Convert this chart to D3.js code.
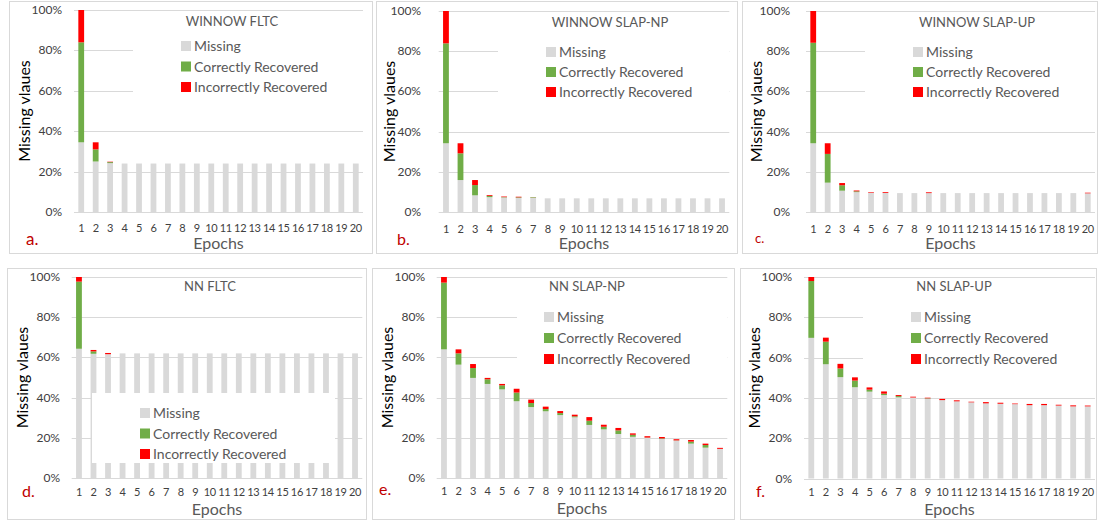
<!DOCTYPE html>
<html>
<head>
<meta charset="utf-8">
<script src="https://cdn.jsdelivr.net/npm/d3@7"></script>
<style>
  body { margin: 0; background: #fff; }
  svg { display: block; font-family: Lato, "Open Sans", sans-serif; }
</style>
</head>
<body>
<svg width="1098" height="523"></svg>
<script>
// epochs 1..20
var epochs = d3.range(1, 21);
var yTicks = [0, 20, 40, 60, 80, 100];
var seriesNames = ["Missing", "Correctly Recovered", "Incorrectly Recovered"];
var colors = ["#d9d9d9", "#70ad47", "#ff0000"];

// a. WINNOW FLTC
var missingA   = [34.5, 25, 24.2, 24, 24, 24, 24, 24, 24, 24, 24, 24, 24, 24, 24, 24, 24, 24, 24, 24];
var correctA   = [49.5, 6, 0.5, 0, 0, 0, 0, 0, 0, 0, 0, 0, 0, 0, 0, 0, 0, 0, 0, 0];
var incorrectA = [16, 3.5, 0.2, 0, 0, 0, 0, 0, 0, 0, 0, 0, 0, 0, 0, 0, 0, 0, 0, 0];
// b. WINNOW SLAP-NP
var missingB   = [34.2, 15.9, 8.3, 7.4, 7.2, 7.0, 7.0, 6.8, 6.8, 6.8, 6.8, 6.8, 6.8, 6.8, 6.8, 6.8, 6.8, 6.8, 6.8, 6.8];
var correctB   = [49.7, 13.3, 5.1, 0.6, 0.2, 0.3, 0.3, 0, 0, 0, 0, 0, 0, 0, 0, 0, 0, 0, 0, 0];
var incorrectB = [16.1, 5.0, 2.5, 0.4, 0.3, 0.3, 0.05, 0, 0, 0, 0, 0, 0, 0, 0, 0, 0, 0, 0, 0];
// c. WINNOW SLAP-UP
var missingC   = [34.2, 14.6, 10.6, 9.9, 9.6, 9.5, 9.4, 9.4, 9.4, 9.4, 9.4, 9.4, 9.4, 9.4, 9.4, 9.4, 9.4, 9.4, 9.4, 9.3];
var correctC   = [50, 14.3, 2.7, 0.4, 0, 0, 0, 0, 0, 0, 0, 0, 0, 0, 0, 0, 0, 0, 0, 0];
var incorrectC = [15.8, 5.3, 1.1, 0.4, 0.3, 0.4, 0, 0, 0.4, 0, 0, 0, 0, 0, 0, 0, 0, 0, 0, 0.3];
// d. NN FLTC
var missingD   = [64.3, 61.8, 61.6, 62, 62, 62, 62, 62, 62, 62, 62, 62, 62, 62, 62, 62, 62, 62, 62, 62];
var correctD   = [33.4, 1.2, 0, 0, 0, 0, 0, 0, 0, 0, 0, 0, 0, 0, 0, 0, 0, 0, 0, 0];
var incorrectD = [2.3, 0.7, 0.6, 0, 0, 0, 0, 0, 0, 0, 0, 0, 0, 0, 0, 0, 0, 0, 0, 0];
// e. NN SLAP-NP
var missingE   = [64.0, 56.4, 49.8, 46.8, 44.1, 38.2, 35.3, 33.2, 31.3, 30.2, 26.4, 24.2, 21.9, 20.5, 20.0, 19.4, 18.6, 17.1, 15.1, 14.5];
var correctE   = [33.2, 5.6, 4.9, 2.3, 2.0, 4.3, 2.0, 1.1, 1.0, 0.5, 2.1, 1.3, 1.8, 1.0, 0.1, 0.3, 0.1, 1.0, 1.3, 0];
var incorrectE = [2.8, 2.0, 2.0, 0.7, 0.7, 1.9, 1.7, 1.2, 1.0, 0.8, 1.8, 1.0, 1.2, 0.7, 0.7, 0.7, 0.6, 0.8, 0.7, 0.5];
// f. NN SLAP-UP
var missingF   = [69.8, 56.7, 50.3, 45.3, 43.1, 41.4, 40.3, 40.2, 39.6, 38.9, 38.3, 37.8, 37.3, 37.1, 36.9, 36.4, 36.4, 36.2, 35.8, 35.8];
var correctF   = [28.2, 11.2, 4.3, 3.3, 1.0, 0.7, 0.6, 0, 0.2, 0, 0, 0, 0, 0, 0, 0, 0, 0, 0, 0];
var incorrectF = [2.0, 2.0, 2.3, 1.6, 1.1, 1.1, 0.5, 0.4, 0.3, 0.6, 0.5, 0.3, 0.6, 0.5, 0.3, 0.6, 0.6, 0.4, 0.5, 0.4];

var panels = [
  {letter: "a.", title: "WINNOW FLTC", series: [missingA, correctA, incorrectA],
   box: [9, 1, 372, 253], px: [74, 363], py: [212, 10], ylabX: 62, yTitleX: 24,
   titleXY: [232, 26], leg: [181, 46, 20.5], legBg: [133, 32, 363, 100],
   letterXY: [26, 245], letterSize: 17, xtickY: 232, epochsY: 249},
  {letter: "b.", title: "WINNOW SLAP-NP", series: [missingB, correctB, incorrectB],
   box: [376, 1, 737, 253], px: [438.7, 729.3], py: [212, 11], ylabX: 421, yTitleX: 389,
   titleXY: [610, 27], leg: [546, 52, 20], legBg: [498, 34, 729, 108],
   letterXY: [397, 245], letterSize: 16, xtickY: 233, epochsY: 249},
  {letter: "c.", title: "WINNOW SLAP-UP", series: [missingC, correctC, incorrectC],
   box: [742, 1, 1097, 253], px: [806, 1095], py: [212, 11], ylabX: 790, yTitleX: 756,
   titleXY: [977, 27], leg: [913, 52, 20], legBg: [865, 34, 1095, 108],
   letterXY: [755, 243], letterSize: 13, xtickY: 233, epochsY: 249},
  {letter: "d.", title: "NN FLTC", series: [missingD, correctD, incorrectD],
   box: [7, 268, 366, 519], px: [71.7, 362.3], py: [478, 277], ylabX: 60, yTitleX: 22,
   titleXY: [210, 291], leg: [140, 413, 20.5], legBg: [92, 393, 335, 463],
   letterXY: [22, 497], letterSize: 16, xtickY: 496, epochsY: 515},
  {letter: "e.", title: "NN SLAP-NP", series: [missingE, correctE, incorrectE],
   box: [372, 268, 734, 519], px: [436.7, 727.3], py: [478, 277], ylabX: 425, yTitleX: 387,
   titleXY: [587, 291], leg: [544, 317, 21], legBg: [517, 300, 727, 375],
   letterXY: [379, 495], letterSize: 16, xtickY: 495, epochsY: 514},
  {letter: "f.", title: "NN SLAP-UP", series: [missingF, correctF, incorrectF],
   box: [740, 268, 1096, 519], px: [804, 1095], py: [478.5, 277], ylabX: 792, yTitleX: 754,
   titleXY: [954, 291], leg: [911, 317, 21], legBg: [863, 300, 1095, 375],
   letterXY: [756, 497], letterSize: 16, xtickY: 496, epochsY: 515}
];

var svg = d3.select("svg");

panels.forEach(function(p) {
  var g = svg.append("g");

  g.append("rect")
    .attr("x", p.box[0] + 0.5).attr("y", p.box[1] + 0.5)
    .attr("width", p.box[2] - p.box[0]).attr("height", p.box[3] - p.box[1])
    .attr("fill", "#fff").attr("stroke", "#d9d9d9");

  var x = d3.scaleBand().domain(epochs).range(p.px).paddingInner(0.6).paddingOuter(0.3);
  var y = d3.scaleLinear().domain([0, 100]).range(p.py);

  // gridlines
  g.selectAll(".grid").data(yTicks).enter().append("line")
    .attr("x1", p.px[0]).attr("x2", p.px[1])
    .attr("y1", function(d) { return Math.round(y(d)) + 0.5; })
    .attr("y2", function(d) { return Math.round(y(d)) + 0.5; })
    .attr("stroke", "#d9d9d9");

  // y tick labels
  g.selectAll(".ylab").data(yTicks).enter().append("text")
    .attr("x", p.ylabX).attr("y", function(d) { return y(d) + 4; })
    .attr("text-anchor", "end").attr("font-size", 12).attr("fill", "#404040")
    .text(function(d) { return d + "%"; });

  // stacked bars
  var rows = epochs.map(function(e, i) {
    return {epoch: e, Missing: p.series[0][i], Correct: p.series[1][i], Incorrect: p.series[2][i]};
  });
  var stacked = d3.stack().keys(["Missing", "Correct", "Incorrect"])(rows);
  stacked.forEach(function(layer, k) {
    g.selectAll(".bar" + k).data(layer).enter().append("rect")
      .attr("x", function(d) { return x(d.data.epoch); })
      .attr("width", x.bandwidth())
      .attr("y", function(d) { return y(d[1]); })
      .attr("height", function(d) { return Math.max(0, y(d[0]) - y(d[1])); })
      .attr("fill", colors[k]);
  });

  // legend background (covers grid / bars behind it)
  g.append("rect")
    .attr("x", p.legBg[0]).attr("y", p.legBg[1])
    .attr("width", p.legBg[2] - p.legBg[0]).attr("height", p.legBg[3] - p.legBg[1])
    .attr("fill", "#fff");

  seriesNames.forEach(function(name, k) {
    var cy = p.leg[1] + k * p.leg[2];
    g.append("rect").attr("x", p.leg[0]).attr("y", cy - 5).attr("width", 10).attr("height", 10)
      .attr("fill", colors[k]);
    g.append("text").attr("x", p.leg[0] + 13).attr("y", cy + 5)
      .attr("font-size", 14).attr("fill", "#595959").text(name);
  });

  // x tick labels
  g.selectAll(".xlab").data(epochs).enter().append("text")
    .attr("x", function(d) { return x(d) + x.bandwidth() / 2; })
    .attr("y", p.xtickY)
    .attr("text-anchor", "middle").attr("font-size", 11).attr("fill", "#404040")
    .attr("letter-spacing", -0.3)
    .text(function(d) { return d; });

  g.append("text")
    .attr("x", (p.px[0] + p.px[1]) / 2).attr("y", p.epochsY)
    .attr("text-anchor", "middle").attr("font-size", 16).attr("fill", "#595959")
    .text("Epochs");

  g.append("text")
    .attr("transform", "translate(" + (p.yTitleX + 6) + "," + ((p.py[0] + p.py[1]) / 2) + ") rotate(-90)")
    .attr("text-anchor", "middle").attr("font-size", 16).attr("fill", "#000")
    .text("Missing vlaues");

  g.append("text")
    .attr("x", p.titleXY[0]).attr("y", p.titleXY[1])
    .attr("text-anchor", "middle").attr("font-size", 13).attr("fill", "#595959")
    .text(p.title);

  g.append("text")
    .attr("x", p.letterXY[0]).attr("y", p.letterXY[1])
    .attr("font-size", p.letterSize).attr("fill", "#c00000")
    .text(p.letter);
});
</script>
</body>
</html>
